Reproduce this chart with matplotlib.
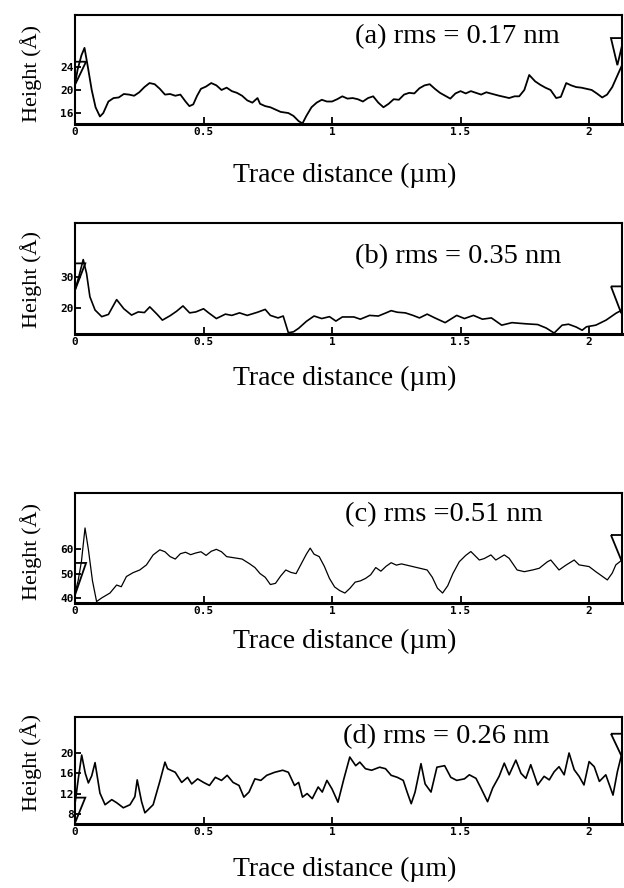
import numpy as np
import matplotlib
matplotlib.use("Agg")
import matplotlib.pyplot as plt

# --- data (x in um, height in Angstrom) ---
a_x = [0.000, 0.010, 0.025, 0.037, 0.050, 0.065, 0.080, 0.097, 0.110, 0.130, 0.150, 0.170,
       0.190, 0.210, 0.230, 0.250, 0.270, 0.290, 0.310, 0.330, 0.350, 0.370, 0.390, 0.410,
       0.430, 0.445, 0.460, 0.475, 0.490, 0.510, 0.530, 0.550, 0.570, 0.590, 0.610, 0.630,
       0.650, 0.670, 0.690, 0.710, 0.720, 0.740, 0.760, 0.780, 0.800, 0.830, 0.850, 0.870,
       0.885, 0.900, 0.920, 0.940, 0.960, 0.980, 1.000, 1.020, 1.040, 1.060, 1.080, 1.100,
       1.120, 1.140, 1.160, 1.180, 1.200, 1.220, 1.240, 1.260, 1.280, 1.300, 1.320, 1.340,
       1.360, 1.380, 1.400, 1.420, 1.440, 1.460, 1.480, 1.500, 1.520, 1.540, 1.560, 1.580,
       1.600, 1.625, 1.650, 1.670, 1.689, 1.710, 1.728, 1.748, 1.767, 1.790, 1.810, 1.830,
       1.850, 1.872, 1.890, 1.911, 1.930, 1.950, 1.970, 1.990, 2.010, 2.030, 2.051, 2.070,
       2.090, 2.110, 2.128]
a_h = [21.0, 23.5, 26.0, 27.3, 24.0, 20.0, 17.0, 15.4, 16.0, 18.0, 18.6, 18.7,
       19.3, 19.2, 19.0, 19.6, 20.5, 21.2, 21.0, 20.2, 19.2, 19.3, 19.0, 19.2,
       18.0, 17.2, 17.5, 19.0, 20.2, 20.6, 21.2, 20.8, 20.0, 20.4, 19.8, 19.5,
       19.0, 18.2, 17.8, 18.6, 17.6, 17.2, 17.0, 16.6, 16.2, 16.0, 15.5, 14.6,
       14.2, 15.5, 17.0, 17.8, 18.3, 18.0, 18.0, 18.4, 18.9, 18.5, 18.6, 18.4,
       18.0, 18.6, 18.9, 17.8, 17.0, 17.6, 18.4, 18.3, 19.2, 19.5, 19.4, 20.3,
       20.8, 21.0, 20.2, 19.5, 19.0, 18.5, 19.4, 19.8, 19.4, 19.8, 19.5, 19.2,
       19.6, 19.3, 19.0, 18.8, 18.6, 18.9, 18.9, 20.0, 22.6, 21.5, 20.9, 20.4,
       20.0, 18.6, 18.8, 21.2, 20.8, 20.5, 20.4, 20.2, 20.0, 19.4, 18.7, 19.2,
       20.5, 22.5, 24.3]

b_x = [0.000, 0.015, 0.032, 0.045, 0.058, 0.078, 0.104, 0.130, 0.162, 0.190, 0.220, 0.246,
       0.270, 0.291, 0.320, 0.340, 0.370, 0.395, 0.420, 0.446, 0.470, 0.500, 0.520, 0.550,
       0.585, 0.610, 0.640, 0.670, 0.710, 0.740, 0.760, 0.790, 0.810, 0.830, 0.850, 0.870,
       0.900, 0.930, 0.960, 0.990, 1.015, 1.040, 1.085, 1.110, 1.146, 1.180, 1.210, 1.230,
       1.254, 1.285, 1.315, 1.340, 1.370, 1.400, 1.440, 1.485, 1.515, 1.550, 1.585, 1.620,
       1.660, 1.700, 1.728, 1.760, 1.800, 1.833, 1.864, 1.895, 1.920, 1.950, 1.973, 1.990,
       2.026, 2.066, 2.105, 2.128]
b_h = [25.7, 30.0, 35.4, 31.0, 23.6, 19.4, 17.3, 18.0, 22.7, 19.8, 17.8, 18.8,
       18.6, 20.4, 18.0, 16.2, 17.6, 19.0, 20.7, 18.5, 18.8, 19.8, 18.5, 16.7,
       18.1, 17.7, 18.5, 17.7, 18.7, 19.6, 17.7, 16.9, 17.5, 12.2, 12.5, 13.6,
       15.8, 17.5, 16.7, 17.3, 15.9, 17.2, 17.2, 16.5, 17.7, 17.5, 18.5, 19.2,
       18.7, 18.5, 17.7, 16.9, 18.1, 16.9, 15.4, 17.7, 16.7, 17.7, 16.5, 16.9,
       14.6, 15.4, 15.2, 15.0, 14.8, 13.7, 12.1, 14.6, 14.9, 14.0, 13.0, 14.1,
       14.6, 16.2, 18.4, 19.4]

c_x = [0.000, 0.012, 0.025, 0.039, 0.052, 0.068, 0.084, 0.104, 0.136, 0.162, 0.180, 0.200,
       0.226, 0.252, 0.278, 0.304, 0.330, 0.350, 0.370, 0.390, 0.410, 0.430, 0.450, 0.470,
       0.490, 0.510, 0.530, 0.550, 0.570, 0.590, 0.620, 0.650, 0.680, 0.700, 0.720, 0.740,
       0.760, 0.780, 0.800, 0.820, 0.840, 0.860, 0.880, 0.900, 0.915, 0.930, 0.950, 0.970,
       0.990, 1.010, 1.030, 1.050, 1.070, 1.090, 1.110, 1.130, 1.150, 1.170, 1.190, 1.210,
       1.230, 1.250, 1.270, 1.290, 1.310, 1.330, 1.350, 1.370, 1.390, 1.410, 1.430, 1.450,
       1.470, 1.495, 1.520, 1.540, 1.573, 1.592, 1.618, 1.637, 1.670, 1.689, 1.720, 1.748,
       1.780, 1.806, 1.838, 1.851, 1.883, 1.910, 1.942, 1.961, 2.000, 2.026, 2.050, 2.071,
       2.090, 2.104, 2.128]
c_h = [42.0, 47.0, 55.0, 68.8, 60.0, 47.0, 38.5, 40.0, 42.0, 45.3, 44.6, 48.8,
       50.4, 51.5, 53.6, 57.7, 59.8, 59.0, 57.0, 56.0, 58.2, 58.8, 57.8, 58.5,
       59.0, 57.5, 59.2, 60.0, 59.0, 57.0, 56.5, 56.0, 54.0, 52.5, 50.0, 48.5,
       45.5, 46.0, 49.0, 51.5, 50.5, 50.0, 54.0, 58.0, 60.5, 58.0, 57.0, 53.0,
       48.0, 44.5, 43.0, 42.0, 44.0, 46.5, 47.0, 48.0, 49.5, 52.5, 51.0, 53.0,
       54.5, 53.5, 54.0, 53.5, 53.0, 52.5, 52.0, 51.5, 48.5, 44.0, 42.0, 45.0,
       50.0, 54.9, 57.5, 59.1, 55.6, 56.2, 57.7, 55.6, 57.7, 56.3, 51.5, 50.8,
       51.5, 52.2, 54.9, 55.6, 51.5, 53.5, 55.6, 53.6, 52.9, 50.8, 49.0, 47.4,
       50.2, 53.6, 55.6]

d_x = [0.000, 0.013, 0.026, 0.040, 0.052, 0.065, 0.078, 0.097, 0.117, 0.143, 0.162, 0.188,
       0.214, 0.233, 0.242, 0.259, 0.272, 0.304, 0.330, 0.350, 0.360, 0.390, 0.415, 0.438,
       0.454, 0.477, 0.500, 0.523, 0.546, 0.570, 0.592, 0.615, 0.638, 0.657, 0.677, 0.700,
       0.723, 0.746, 0.777, 0.808, 0.830, 0.854, 0.870, 0.885, 0.903, 0.923, 0.946, 0.962,
       0.980, 1.000, 1.023, 1.046, 1.069, 1.092, 1.108, 1.130, 1.154, 1.185, 1.208, 1.230,
       1.254, 1.277, 1.292, 1.308, 1.323, 1.346, 1.362, 1.385, 1.408, 1.438, 1.462, 1.485,
       1.515, 1.534, 1.560, 1.579, 1.605, 1.625, 1.650, 1.670, 1.689, 1.715, 1.735, 1.754,
       1.773, 1.800, 1.825, 1.845, 1.864, 1.883, 1.903, 1.922, 1.942, 1.961, 1.980, 2.000,
       2.020, 2.040, 2.065, 2.093, 2.110, 2.128]
d_h = [10.0, 15.0, 19.6, 16.0, 14.1, 15.5, 18.1, 12.1, 9.8, 10.8, 10.2, 9.2,
       9.8, 11.4, 14.7, 10.4, 8.2, 9.8, 14.4, 18.2, 16.9, 16.2, 14.2, 15.2,
       13.9, 14.9, 14.2, 13.6, 15.2, 14.6, 15.6, 14.2, 13.6, 11.3, 12.3, 14.9,
       14.6, 15.6, 16.2, 16.6, 16.2, 13.6, 14.2, 11.3, 12.0, 11.0, 13.3, 12.3,
       14.6, 12.9, 10.3, 14.9, 19.2, 17.5, 18.2, 16.9, 16.6, 17.2, 16.9, 15.6,
       15.2, 14.6, 12.3, 10.0, 12.3, 17.9, 13.9, 12.3, 17.2, 17.5, 15.2, 14.6,
       14.9, 15.7, 15.0, 13.1, 10.4, 13.1, 15.4, 18.0, 15.7, 18.6, 16.0, 15.0,
       17.7, 13.7, 15.4, 14.7, 16.3, 17.3, 15.7, 20.0, 16.7, 15.4, 13.7, 18.3,
       17.3, 14.4, 15.7, 11.7, 16.3, 20.0]

# cursor triangles of the profiler (x, height)
a_cur_l = ([0.0, 0.043, 0.0], [24.9, 24.9, 20.9])
a_cur_r = ([2.085, 2.135, 2.110], [29.0, 29.0, 24.3])
b_cur_l = ([0.0, 0.040, 0.0], [34.2, 34.2, 25.7])
b_cur_r = ([2.085, 2.140, 2.125], [26.9, 26.9, 18.4])
c_cur_l = ([0.0, 0.043, 0.0], [54.4, 54.4, 41.2])
c_cur_r = ([2.085, 2.140, 2.128], [65.9, 65.9, 54.8])
d_cur_l = ([0.0, 0.040, 0.0], [11.2, 11.2, 6.2])
d_cur_r = ([2.085, 2.140, 2.128], [23.8, 23.8, 19.2])

labels = ["(a) rms = 0.17 nm", "(b) rms = 0.35 nm", "(c) rms =0.51 nm", "(d) rms = 0.26 nm"]
yticks = [[16, 20, 24], [20, 30], [40, 50, 60], [8, 12, 16, 20]]
ylims = [(14.1, 33.0), (11.8, 47.0), (37.9, 83.2), (6.0, 27.1)]
xticks = [0, 0.5, 1, 1.5, 2]
xtick_labels = ["0", "0.5", "1", "1.5", "2"]

W, H = 624, 888
fig = plt.figure(figsize=(W / 100, H / 100), dpi=100)

serif = "Liberation Serif"
tickfont = dict(family="DejaVu Sans Mono", weight="bold", size=8)

# pixel boxes: left, top, right, bottom
boxes = [(75, 15, 622, 124), (75, 223, 622, 334), (75, 493, 622, 603), (75, 717, 622, 824)]
xlab_y = [175, 378, 641, 869]
ylab_y = [74, 279, 552, 762]
text_y = [37, 257, 515, 737]
text_x = [355, 355, 345, 343]
lws = [1.3, 1.2, 0.9, 1.2]

series = [(a_x, a_h, a_cur_l, a_cur_r), (b_x, b_h, b_cur_l, b_cur_r),
          (c_x, c_h, c_cur_l, c_cur_r), (d_x, d_h, d_cur_l, d_cur_r)]

for i, (xs, hs, cl, cr) in enumerate(series):
    l, t, r, b = boxes[i]
    ax = fig.add_axes([l / W, 1 - b / H, (r - l) / W, (b - t) / H])
    ax.plot(xs, hs, color="black", lw=lws[i])
    ax.fill(cl[0], cl[1], facecolor="none", edgecolor="black", lw=1.3)
    ax.fill(cr[0], cr[1], facecolor="none", edgecolor="black", lw=1.3)
    ax.set_xlim(0, 2.128)
    ax.set_ylim(*ylims[i])
    ax.set_xticks(xticks)
    ax.set_xticklabels(xtick_labels, **tickfont)
    ax.set_yticks(yticks[i])
    ax.set_yticklabels([str(v) for v in yticks[i]], **tickfont)
    ax.tick_params(axis="x", direction="in", length=5, width=1.3, pad=2)
    ax.tick_params(axis="y", direction="in", length=4, width=1.3, pad=1)
    for s in ["top", "left", "right"]:
        ax.spines[s].set_linewidth(1.5)
    ax.spines["bottom"].set_linewidth(2.2)

    h = b - t
    ax.text((text_x[i] - l) / (r - l), (b - text_y[i]) / h, labels[i],
            transform=ax.transAxes, ha="left", va="center",
            family=serif, fontsize=20.5)
    fig.text(345 / W, 1 - xlab_y[i] / H, "Trace distance (\u00b5m)",
             ha="center", va="center", family=serif, fontsize=20)
    fig.text(31 / W, 1 - ylab_y[i] / H, "Height (\u00c5)", rotation=90,
             ha="center", va="center", family=serif, fontsize=16)

fig.savefig("out.png", dpi=100)
